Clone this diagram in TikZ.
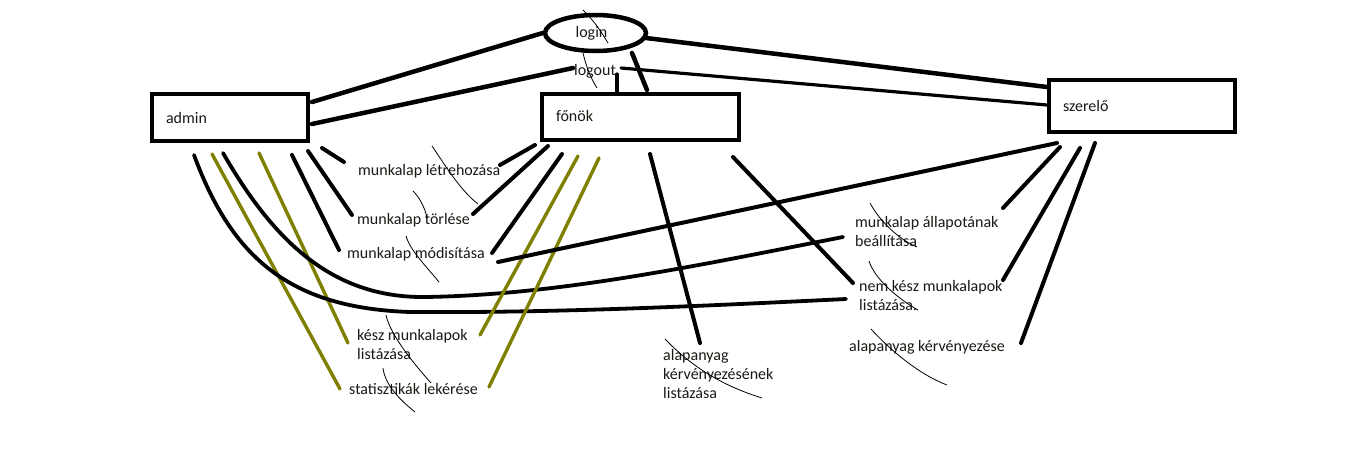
\documentclass[tikz,border=0pt]{standalone}
\usepackage{fontspec}
\setmainfont{Carlito}
\usetikzlibrary{shapes.geometric}
\definecolor{olivel}{RGB}{128,128,0}
\definecolor{txt}{RGB}{28,24,20}
\tikzset{
  thick line/.style={line width=4.5pt, line cap=round},
  mid line/.style={line width=3.2pt, line cap=round},
  olive line/.style={line width=3.4pt, color=olivel, line cap=round},
  scribble/.style={line width=0.8pt},
  boxnode/.style={draw, line width=4.5pt, inner xsep=14pt, font=\fontsize{16}{19}\selectfont, text=txt},
  lbl/.style={anchor=west, inner sep=0pt, align=left, yshift=-2pt, font=\fontsize{16}{19}\selectfont, text=txt},
}
\begin{document}
\begin{tikzpicture}[x=1pt,y=-1pt]
\useasboundingbox (0,0) rectangle (1355,471);
\fill[white] (0,0) rectangle (1355,471);

% actors
\node[boxnode, minimum width=156pt, minimum height=47pt] (admin) at (230,117.5) {\makebox[128pt][l]{\raisebox{-6pt}[0pt][0pt]{admin}}};
\node[boxnode, minimum width=197pt, minimum height=46pt] (fonok) at (640.5,117) {\makebox[169pt][l]{\raisebox{-4pt}[0pt][0pt]{főnök}}};
\node[boxnode, minimum width=186pt, minimum height=52pt] (szerelo) at (1142,106) {\makebox[158pt][l]{\raisebox{-5.5pt}[0pt][0pt]{szerelő}}};
\node[ellipse, draw, line width=4.5pt, minimum width=101pt, minimum height=36pt, inner sep=0pt,
      font=\fontsize{16}{19}\selectfont, text=txt] (login) at (595.5,33) {\hspace*{-8pt}\raisebox{-4.5pt}[0pt][0pt]{login}};
\node[lbl, anchor=center] (logout) at (595,70) {\strut logout};

% use cases
\node[lbl] (u1) at (358,170) {\strut munkalap létrehozása};
\node[lbl] (u2) at (357,218.5) {\strut munkalap törlése};
\node[lbl] (u3) at (347,253) {\strut munkalap módisítása};
\node[lbl] (u4) at (357,344.5) {\strut kész munkalapok\\\strut listázása};
\node[lbl] (u5) at (349,389) {\strut statisztikák lekérése};
\node[lbl] (u6) at (663,374) {\strut alapanyag\\\strut kérvényezésének\\\strut listázása};
\node[lbl] (u7) at (855,231.5) {\strut munkalap állapotának\\\strut beállítása};
\node[lbl] (u8) at (859,295.5) {\strut nem kész munkalapok\\\strut listázása.};
\node[lbl] (u9) at (849,346) {\strut alapanyag kérvényezése};

% connector end points
\coordinate (aL1) at (312,102);
\coordinate (aL2) at (312,124);
\coordinate (loL) at (573,68);
\coordinate (loR) at (621,68);
\coordinate (loB) at (617,74);
\coordinate (liR) at (646,38);
\coordinate (liB) at (632,53);
\coordinate (sL1) at (1047,87);
\coordinate (sL2) at (1047,105);
\coordinate (fT1) at (647,90);
\coordinate (fT2) at (617,92);

% login / logout connectors
\draw[thick line] (login.west) -- (aL1);
\draw[thick line] (loL) -- (aL2);
\draw[thick line] (liR) -- (sL1);
\draw[mid line] (loR) -- (sL2);
\draw[thick line] (liB) -- (fT1);
\draw[mid line] (loB) -- (fT2);

% admin connectors
\coordinate (a1) at (322,148); \coordinate (e1) at (344,162);
\coordinate (a2) at (308,151); \coordinate (e2) at (352,215);
\coordinate (a3) at (292,155); \coordinate (e3) at (339,250);
\coordinate (a4) at (259,153); \coordinate (e4) at (348,343);
\coordinate (a5) at (212,154); \coordinate (e5) at (340,389);
\coordinate (a6) at (223,153); \coordinate (e6) at (843,237);
\coordinate (a7) at (194,155); \coordinate (e7) at (846,299);
\draw[thick line, line width=4pt] (a1) -- (e1);
\draw[thick line, line width=4pt] (a2) -- (e2);
\draw[thick line, line width=4pt] (a3) -- (e3);
\draw[olive line] (a4) -- (e4);
\draw[olive line] (a5) -- (e5);
\draw[thick line, line width=3.8pt] (a6) .. controls (272,238) and (330,298) .. (425,297)
      .. controls (560,295) and (700,265) .. (e6);
\draw[thick line, line width=3.8pt] (a7) .. controls (232,258) and (290,308) .. (410,312)
      .. controls (560,313) and (700,306) .. (e7);

% főnök connectors
\coordinate (f1) at (535,145); \coordinate (g1) at (500,165);
\coordinate (f2) at (548,146); \coordinate (g2) at (473,214);
\coordinate (f3) at (562,154); \coordinate (g3) at (492,253);
\coordinate (f4) at (578,156); \coordinate (g4) at (480,335);
\coordinate (f5) at (599,158); \coordinate (g5) at (489,387);
\coordinate (f6) at (650,154); \coordinate (g6) at (700,343);
\coordinate (f7) at (733,157); \coordinate (g7) at (853,283);
\draw[thick line, line width=4pt] (f1) -- (g1);
\draw[thick line, line width=4pt] (f2) -- (g2);
\draw[thick line, line width=4pt] (f3) -- (g3);
\draw[olive line] (f4) -- (g4);
\draw[olive line] (f5) -- (g5);
\draw[thick line, line width=4pt] (f6) -- (g6);
\draw[thick line, line width=4pt] (f7) -- (g7);

% szerelő connectors
\coordinate (s1) at (1057,143); \coordinate (h1) at (498,262);
\coordinate (s2) at (1060,147); \coordinate (h2) at (1003,208);
\coordinate (s3) at (1080,148); \coordinate (h3) at (1003,280);
\coordinate (s4) at (1095,143); \coordinate (h4) at (1021,343);
\draw[thick line, line width=4pt] (s1) -- (h1);
\draw[thick line, line width=4pt] (s2) -- (h2);
\draw[thick line, line width=4pt] (s3) -- (h3);
\draw[thick line, line width=4pt] (s4) -- (h4);

% thin scribbles
\draw[scribble] (583,10) .. controls (595,22) and (600,30) .. (608,43);
\draw[scribble] (583,53) .. controls (587,70) and (592,80) .. (597,88);
\draw[scribble] (432,146) .. controls (445,165) and (460,190) .. (478,204);
\draw[scribble] (413,191) .. controls (420,198) and (425,208) .. (427,218);
\draw[scribble] (406,236) .. controls (410,250) and (425,265) .. (439,282);
\draw[scribble] (386,315) .. controls (390,335) and (415,365) .. (431,383);
\draw[scribble] (383,368) .. controls (385,385) and (400,400) .. (415,412);
\draw[scribble] (665,339) .. controls (690,365) and (720,385) .. (762,398);
\draw[scribble] (870,203) .. controls (880,222) and (900,240) .. (917,247);
\draw[scribble] (869,261) .. controls (875,280) and (900,300) .. (918,310);
\draw[scribble] (871,329) .. controls (890,350) and (920,375) .. (947,385);
\end{tikzpicture}
\end{document}
